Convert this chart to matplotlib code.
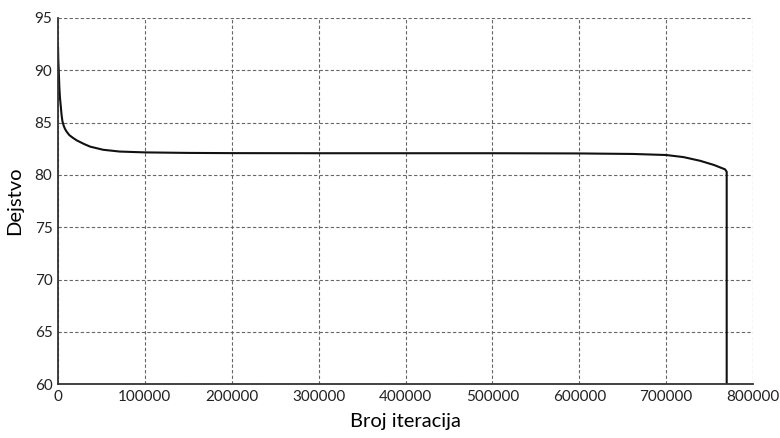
import matplotlib
matplotlib.use("Agg")
import matplotlib.pyplot as plt

# Data
iteracije = [0, 300, 800, 1500, 2200, 3000, 4000, 5000, 6500, 8000, 10000, 13000,
             17000, 21500, 30000, 37000, 52000, 71000, 100000, 150000, 200000,
             300000, 400000, 500000, 600000, 662000, 700000, 720000, 739000,
             755000, 767800, 769700, 769700]
dejstvo = [92.2, 91.0, 90.0, 88.4, 87.4, 86.7, 85.8, 85.15, 84.7, 84.4, 84.12, 83.8,
           83.55, 83.3, 82.95, 82.7, 82.4, 82.23, 82.15, 82.1, 82.08,
           82.07, 82.07, 82.07, 82.05, 82.0, 81.9, 81.7, 81.35,
           80.95, 80.53, 80.3, 60.0]

xticks = [0, 100000, 200000, 300000, 400000, 500000, 600000, 700000, 800000]
yticks = [60, 65, 70, 75, 80, 85, 90, 95]

plt.rcParams['font.family'] = ['Lato', 'DejaVu Sans']

fig = plt.figure(figsize=(7.8, 4.38), dpi=100)
ax = fig.add_axes([0.0744, 0.123, 0.891, 0.836])

ax.plot(iteracije, dejstvo, color='#111111', linewidth=1.5)

ax.set_xlim(0, 800000)
ax.set_ylim(60, 95)
ax.set_xticks(xticks)
ax.set_yticks(yticks)
ax.set_xticklabels([str(t) for t in xticks])
ax.tick_params(length=0, labelsize=11, colors='#222222', pad=4)

ax.grid(True, linestyle=(0, (3, 2)), color='#666666', linewidth=0.8)
ax.set_axisbelow(True)
for s in ['top', 'right']:
    ax.spines[s].set_visible(False)
for s in ['left', 'bottom']:
    ax.spines[s].set_color('#333333')
    ax.spines[s].set_linewidth(1.3)

ax.set_xlabel('Broj iteracija', fontsize=14.5, labelpad=7)
ax.set_ylabel('Dejstvo', fontsize=14.5, labelpad=8)

fig.savefig('out.png', dpi=100)
